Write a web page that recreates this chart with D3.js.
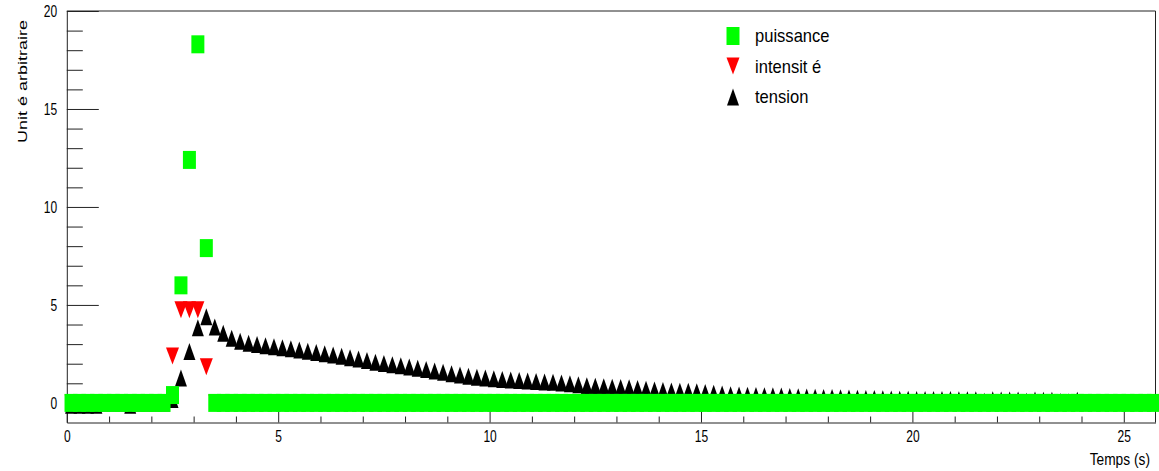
<!DOCTYPE html>
<html>
<head>
<meta charset="utf-8">
<script src="https://cdn.jsdelivr.net/npm/d3@7"></script>
<style>
  html, body { margin: 0; padding: 0; background: #ffffff; }
  svg { display: block; }
  text { font-family: "Liberation Sans", Arial, Helvetica, sans-serif; fill: #000; }
</style>
</head>
<body>
<svg id="chart" width="1159" height="471"></svg>
<script>
// Sampling grid: one acquisition every 0.2 s starting at 0.1 s
const t0 = 0.1, dt = 0.2;

// puissance (power) per sample
const puissance = [
  0, 0, 0, 0, 0, 0, 0, 0, 0, 0,
  0, 0, 0.4, 6.0, 12.4, 18.3, 7.9, 0, 0, 0,
  0, 0, 0, 0, 0, 0, 0, 0, 0, 0,
  0, 0, 0, 0, 0, 0, 0, 0, 0, 0,
  0, 0, 0, 0, 0, 0, 0, 0, 0, 0,
  0, 0, 0, 0, 0, 0, 0, 0, 0, 0,
  0, 0, 0, 0, 0, 0, 0, 0, 0, 0,
  0, 0, 0, 0, 0, 0, 0, 0, 0, 0,
  0, 0, 0, 0, 0, 0, 0, 0, 0, 0,
  0, 0, 0, 0, 0, 0, 0, 0, 0, 0,
  0, 0, 0, 0, 0, 0, 0, 0, 0, 0,
  0, 0, 0, 0, 0, 0, 0, 0, 0, 0,
  0, 0, 0, 0, 0, 0, 0, 0, 0
];

// intensité (current) per sample
const intensite = [
  0, 0, 0, 0, 0, 0, 0, 0, 0, 0,
  0, 0, 2.4, 4.75, 4.75, 4.75, 1.85, 0, 0, 0,
  0, 0, 0, 0, 0, 0, 0, 0, 0, 0,
  0, 0, 0, 0, 0, 0, 0, 0, 0, 0,
  0, 0, 0, 0, 0, 0, 0, 0, 0, 0,
  0, 0, 0, 0, 0, 0, 0, 0, 0, 0,
  0, 0, 0, 0, 0, 0, 0, 0, 0, 0,
  0, 0, 0, 0, 0, 0, 0, 0, 0, 0,
  0, 0, 0, 0, 0, 0, 0, 0, 0, 0,
  0, 0, 0, 0, 0, 0, 0, 0, 0, 0,
  0, 0, 0, 0, 0, 0, 0, 0, 0, 0,
  0, 0, 0, 0, 0, 0, 0, 0, 0, 0,
  0, 0, 0, 0, 0, 0, 0, 0, 0
];

// tension (voltage) per sample
const tension = [
  -0.12, -0.12, -0.12, -0.12, 0, 0, 0, -0.12, 0, 0,
  0, 0, 0.17, 1.27, 2.62, 3.84, 4.40, 3.88, 3.55, 3.30,
  3.15, 3.05, 2.98, 2.92, 2.86, 2.81, 2.76, 2.70, 2.64, 2.57,
  2.51, 2.45, 2.38, 2.31, 2.24, 2.16, 2.08, 2.01, 1.95, 1.89,
  1.83, 1.77, 1.70, 1.63, 1.56, 1.49, 1.42, 1.36, 1.31, 1.27,
  1.23, 1.20, 1.17, 1.14, 1.12, 1.09, 1.07, 1.05, 1.02, 0.98,
  0.93, 0.88, 0.85, 0.82, 0.80, 0.79, 0.77, 0.74, 0.70, 0.66,
  0.63, 0.61, 0.60, 0.59, 0.57, 0.53, 0.49, 0.45, 0.42, 0.40,
  0.39, 0.38, 0.37, 0.36, 0.35, 0.33, 0.31, 0.30, 0.29, 0.28,
  0.27, 0.26, 0.25, 0.24, 0.23, 0.22, 0.21, 0.20, 0.19, 0.19,
  0.18, 0.18, 0.17, 0.17, 0.17, 0.16, 0.16, 0.16, 0.08, 0.16,
  0.15, 0.15, 0.15, 0.08, 0.15, 0.14, 0.14, 0.07, 0.06, 0.14,
  0.02, 0.02, 0.02, 0.02, 0.02, 0.02, 0.02, 0.02, 0.02
];

const xMajorTicks = [0, 5, 10, 15, 20, 25];
const yMajorTicks = [0, 5, 10, 15, 20];
const seriesNames = ["puissance", "intensit \u00e9", "tension"];
const seriesColors = ["#00ff00", "#ff0000", "#000000"];
const xTitle = "Temps (s)";
const yTitle = "Unit \u00e9 arbitraire";

const time = tension.map((_, i) => +(t0 + i * dt).toFixed(2));

const svg = d3.select("#chart");

// Frame geometry
const frameL = 66.8, frameR = 1155.5, frameT = 11, frameB = 422.5;
const x = d3.scaleLinear().domain([0, 25.75]).range([frameL, frameR]);
const y = d3.scaleLinear().domain([-1, 20]).range([frameB, frameT]);

const axisColor = "#222";

// Frame (top and right edges)
svg.append("path")
  .attr("d", `M${frameL},${frameT}H${frameR}V${frameB}`)
  .attr("fill", "none").attr("stroke", axisColor).attr("stroke-width", 1);

// Minor tick values at every unit
const xMinor = d3.range(1, 26).filter(v => v % 5 !== 0);
const yMinor = d3.range(1, 20).filter(v => v % 5 !== 0);

// X axis
const gx = svg.append("g").attr("transform", `translate(0,${frameB})`);
gx.call(d3.axisBottom(x).tickValues(xMajorTicks).tickSizeInner(-12).tickSizeOuter(0).tickPadding(8));
gx.append("g").call(d3.axisBottom(x).tickValues(xMinor).tickSizeInner(-6).tickSizeOuter(0).tickFormat(() => ""))
  .select(".domain").remove();
gx.selectAll("path.domain, line").attr("stroke", axisColor);
gx.selectAll("text")
  .attr("font-size", 16)
  .attr("font-family", "Liberation Sans, Arial, sans-serif")
  .attr("fill", "#000")
  .attr("transform", "scale(0.75,1)");

// Y axis
const gy = svg.append("g").attr("transform", `translate(${frameL},0)`);
gy.call(d3.axisLeft(y).tickValues(yMajorTicks).tickSizeInner(-32).tickSizeOuter(0).tickPadding(10));
gy.append("g").call(d3.axisLeft(y).tickValues(yMinor).tickSizeInner(-16).tickSizeOuter(0).tickFormat(() => ""))
  .select(".domain").remove();
gy.selectAll("path.domain, line").attr("stroke", axisColor);
gy.selectAll("text")
  .attr("font-size", 16)
  .attr("font-family", "Liberation Sans, Arial, sans-serif")
  .attr("fill", "#000")
  .attr("x", -13)
  .attr("transform", "scale(0.75,1)");

// Axis titles
svg.append("text")
  .attr("transform", "translate(27,81.5) rotate(-90) scale(1,0.72)")
  .attr("text-anchor", "middle")
  .attr("font-size", 18)
  .text(yTitle);

svg.append("text")
  .attr("transform", "translate(1150,465) scale(0.86,1)")
  .attr("text-anchor", "end")
  .attr("font-size", 16)
  .text(xTitle);

// Marker shapes
const sq = "M-6.5,-9H6.5V9H-6.5Z";
const triDown = "M-6.5,-8.5H6.5L0,8.5Z";
const triUp = "M0,-8.5L6,8.5H-6Z";

const marks = svg.append("g");

function drawSeries(values, shape, color) {
  marks.append("g").selectAll("path")
    .data(values.map((v, i) => ({ t: time[i], v })))
    .join("path")
    .attr("d", shape)
    .attr("fill", color)
    .attr("transform", d => `translate(${x(d.t)},${y(d.v)})`);
}

drawSeries(intensite, triDown, seriesColors[1]);
drawSeries(tension, triUp, seriesColors[2]);
drawSeries(puissance, sq, seriesColors[0]);

// Legend
const legendShapes = [sq, triDown, triUp];
const legendMarkY = [36, 66, 97];
const legendTextY = [41.5, 72.5, 103];
const legend = svg.append("g");
seriesNames.forEach((name, i) => {
  legend.append("path")
    .attr("d", legendShapes[i])
    .attr("fill", seriesColors[i])
    .attr("transform", `translate(733,${legendMarkY[i]})`);
  legend.append("text")
    .attr("transform", `translate(755,${legendTextY[i]}) scale(0.92,1)`)
    .attr("font-size", 18)
    .text(name);
});
</script>
</body>
</html>
